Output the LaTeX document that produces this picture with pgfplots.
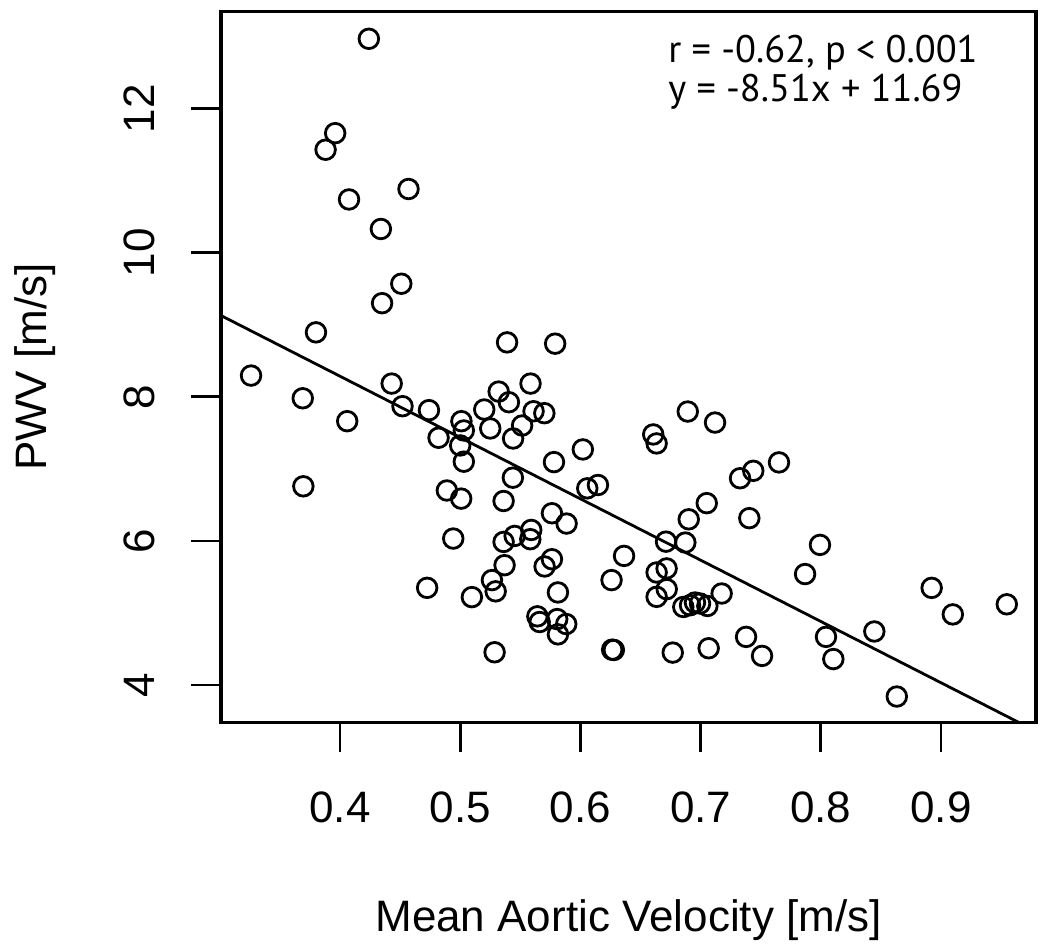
\documentclass[border=0pt]{standalone}
\usepackage{pgfplots}
\pgfplotsset{compat=1.18}
\usepackage{fontspec}
\setmainfont{Liberation Sans}
\newfontfamily\annfont{PT Sans}
\pgfplotstableread{
x y
0.424 12.97
0.396 11.66
0.388 11.43
0.457 10.885
0.4075 10.74
0.434 10.33
0.451 9.57
0.435 9.30
0.380 8.895
0.539 8.756
0.579 8.738
0.326 8.295
0.369 7.98
0.406 7.662
0.443 8.184
0.452 7.87
0.474 7.815
0.482 7.432
0.501 7.662
0.503 7.533
0.500 7.325
0.503 7.10
0.520 7.824
0.532 8.073
0.5405 7.925
0.525 7.561
0.5585 8.184
0.561 7.80
0.570 7.773
0.5515 7.602
0.544 7.422
0.602 7.27
0.578 7.094
0.6606 7.478
0.6634 7.353
0.6057 6.73
0.6146 6.776
0.3695 6.758
0.5438 6.878
0.4889 6.70
0.5008 6.587
0.5361 6.554
0.5763 6.384
0.5885 6.241
0.4942 6.033
0.5361 5.986
0.5453 6.069
0.5591 6.152
0.5583 6.024
0.5369 5.663
0.5763 5.746
0.5702 5.645
0.6363 5.792
0.6259 5.456
0.6634 5.562
0.6717 5.618
0.6634 5.224
0.4725 5.349
0.5264 5.456
0.5295 5.30
0.5097 5.22
0.5813 5.285
0.5642 4.953
0.5661 4.874
0.5807 4.915
0.5882 4.846
0.5813 4.703
0.5286 4.454
0.6264 4.49
0.6278 4.486
0.6893 7.796
0.712 7.643
0.7652 7.09
0.7438 6.973
0.7328 6.87
0.7051 6.524
0.7405 6.316
0.6901 6.30
0.6712 5.99
0.6873 5.977
0.6718 5.33
0.6856 5.083
0.6912 5.107
0.6953 5.145
0.6995 5.131
0.7056 5.097
0.7175 5.27
0.7993 5.945
0.7869 5.54
0.8922 5.348
0.9098 4.98
0.9547 5.12
0.7378 4.668
0.7511 4.404
0.8043 4.668
0.8104 4.36
0.8445 4.743
0.8632 3.84
0.6768 4.45
0.7067 4.51
}\pwvdata
\begin{document}
\begin{tikzpicture}
\path[use as bounding box] (-110.5pt,-113.85pt) rectangle (414.5pt,361.15pt);
\begin{axis}[
  at={(0pt,0pt)}, anchor=south west,
  scale only axis, width=407.5pt, height=355.3pt,
  xmin=0.301, xmax=0.979, ymin=3.482, ymax=13.346,
  axis line style={line width=1.6pt},
  xtick={0.4,0.5,0.6,0.7,0.8,0.9}, ytick={4,6,8,10,12},
  xtick pos=bottom, ytick pos=left,
  tick align=outside, major tick length=15pt,
  tick style={line width=1.4pt, black},
  /pgf/number format/assume math mode=true,
  /pgf/number format/fixed, /pgf/number format/precision=1,
  xticklabel={\pgfmathprintnumber[fixed,fixed zerofill,precision=1]{\tick}},
  ticklabel style={font=\fontsize{22}{26}\selectfont},
  xticklabel style={anchor=base},
  xticklabel shift=35.2pt,
  yticklabel style={rotate=90, anchor=base},
  yticklabel shift=18pt,
  every axis x label/.style={at={(axis description cs:0.5,-0.2947)}, anchor=base},
  every axis y label/.style={at={(axis description cs:-0.2135,0.5)}, rotate=90, anchor=base},
  label style={font=\fontsize{22}{26}\selectfont},
  xlabel={Mean Aortic Velocity [m/s]},
  ylabel={PWV [m/s]},
]
\addplot[only marks, mark=o, mark size=4.9pt, mark options={line width=1.4pt, black}] table[x=x, y=y] {\pwvdata};
\addplot[no markers, line width=1.4pt, black] coordinates {(0.301,9.1285) (0.979,3.3587)};
\node[anchor=base west, inner sep=0pt, font=\annfont\fontsize{19.2}{22}\selectfont] at (rel axis cs:0.5485,0.9292) {r = -0.62, p < 0.001};
\node[anchor=base west, inner sep=0pt, font=\annfont\fontsize{19.2}{22}\selectfont] at (rel axis cs:0.5485,0.8733) {y = -8.51x + 11.69};
\end{axis}
\end{tikzpicture}
\end{document}
